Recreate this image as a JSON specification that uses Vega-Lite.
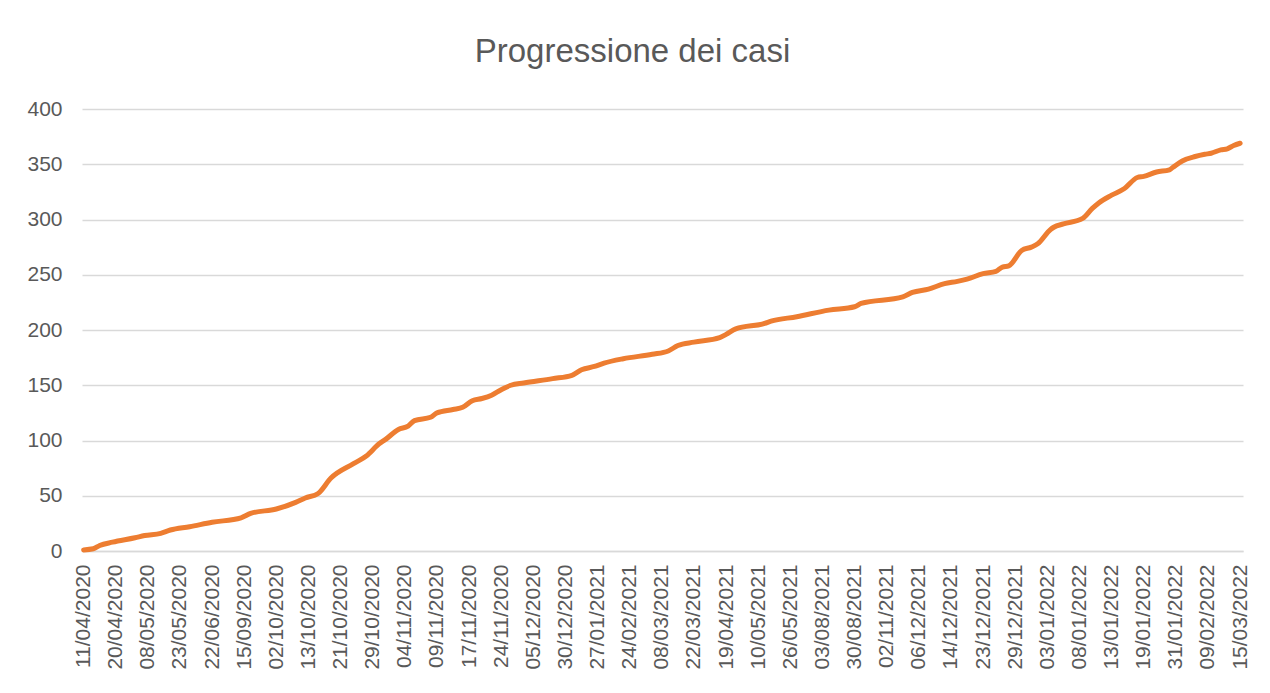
{
  "$schema": "https://vega.github.io/schema/vega-lite/v6.json",
  "autosize": {"type": "none"},
  "padding": {"left": 82, "top": 109, "right": 27, "bottom": 142},
  "width": 1161,
  "height": 442,
  "background": "white",
  "config": {"view": {"stroke": null}, "font": "Liberation Sans"},
  "title": {
    "text": "Progressione dei casi",
    "fontSize": 33,
    "fontWeight": "normal",
    "color": "#595959",
    "anchor": "middle",
    "frame": "group",
    "dx": -30,
    "dy": 42,
    "baseline": "alphabetic",
    "offset": 45
  },
  "data": {
    "values": [
      {"i": 0, "v": 1}, {"i": 3, "v": 2}, {"i": 5, "v": 5}, {"i": 9, "v": 8},
      {"i": 16, "v": 12}, {"i": 19, "v": 14}, {"i": 24, "v": 16}, {"i": 27, "v": 19},
      {"i": 33, "v": 22}, {"i": 40, "v": 26}, {"i": 49, "v": 30}, {"i": 52, "v": 34},
      {"i": 60, "v": 38}, {"i": 66, "v": 44}, {"i": 69, "v": 48}, {"i": 73, "v": 52},
      {"i": 77, "v": 66}, {"i": 84, "v": 79}, {"i": 88, "v": 86}, {"i": 92, "v": 97},
      {"i": 94, "v": 101}, {"i": 98, "v": 110}, {"i": 101, "v": 113}, {"i": 103, "v": 118},
      {"i": 108, "v": 121}, {"i": 110, "v": 125}, {"i": 115, "v": 128}, {"i": 118, "v": 130},
      {"i": 121, "v": 136}, {"i": 124, "v": 138}, {"i": 127, "v": 141}, {"i": 130, "v": 146},
      {"i": 133, "v": 150}, {"i": 137, "v": 152}, {"i": 146, "v": 156}, {"i": 152, "v": 159},
      {"i": 155, "v": 164}, {"i": 159, "v": 167}, {"i": 162, "v": 170}, {"i": 168, "v": 174},
      {"i": 177, "v": 178}, {"i": 182, "v": 181}, {"i": 185, "v": 186}, {"i": 190, "v": 189},
      {"i": 198, "v": 193}, {"i": 200, "v": 196}, {"i": 203, "v": 201}, {"i": 212, "v": 206},
      {"i": 214, "v": 208}, {"i": 222, "v": 212}, {"i": 232, "v": 218}, {"i": 240, "v": 221},
      {"i": 242, "v": 224}, {"i": 255, "v": 230}, {"i": 258, "v": 234}, {"i": 263, "v": 237},
      {"i": 268, "v": 242}, {"i": 272, "v": 244}, {"i": 275, "v": 246}, {"i": 280, "v": 251},
      {"i": 284, "v": 253}, {"i": 286, "v": 257}, {"i": 288, "v": 258}, {"i": 292, "v": 272},
      {"i": 295, "v": 275}, {"i": 297, "v": 278}, {"i": 301, "v": 291}, {"i": 302, "v": 293},
      {"i": 305, "v": 296}, {"i": 311, "v": 301}, {"i": 314, "v": 310}, {"i": 316, "v": 315},
      {"i": 320, "v": 322}, {"i": 324, "v": 328}, {"i": 328, "v": 338}, {"i": 330, "v": 339},
      {"i": 334, "v": 343}, {"i": 338, "v": 345}, {"i": 339, "v": 347}, {"i": 342, "v": 353},
      {"i": 346, "v": 357}, {"i": 349, "v": 359}, {"i": 351, "v": 360}, {"i": 354, "v": 363},
      {"i": 356, "v": 364}, {"i": 358, "v": 367}, {"i": 360, "v": 369}
    ]
  },
  "mark": {"type": "line", "color": "#ED7D31", "strokeWidth": 5, "strokeCap": "round", "strokeJoin": "round", "interpolate": "monotone"},
  "encoding": {
    "x": {
      "field": "i",
      "type": "quantitative",
      "scale": {"domain": [-0.5, 360.9], "nice": false, "zero": false},
      "axis": {
        "title": null,
        "values": [0, 10, 20, 30, 40, 50, 60, 70, 80, 90, 100, 110, 120, 130, 140, 150, 160, 170, 180, 190, 200, 210, 220, 230, 240, 250, 260, 270, 280, 290, 300, 310, 320, 330, 340, 350, 360],
        "labelExpr": "['11/04/2020','20/04/2020','08/05/2020','23/05/2020','22/06/2020','15/09/2020','02/10/2020','13/10/2020','21/10/2020','29/10/2020','04/11/2020','09/11/2020','17/11/2020','24/11/2020','05/12/2020','30/12/2020','27/01/2021','24/02/2021','08/03/2021','22/03/2021','19/04/2021','10/05/2021','26/05/2021','03/08/2021','30/08/2021','02/11/2021','06/12/2021','14/12/2021','23/12/2021','29/12/2021','03/01/2022','08/01/2022','13/01/2022','19/01/2022','31/01/2022','09/02/2022','15/03/2022'][round(datum.value / 10)]",
        "labelAngle": -90,
        "labelFontSize": 21,
        "labelColor": "#595959",
        "labelPadding": 13,
        "labelOverlap": false,
        "labelBound": false,
        "labelFlush": false,
        "ticks": false,
        "grid": false,
        "domain": true,
        "domainColor": "#D9D9D9",
        "domainWidth": 1.3
      }
    },
    "y": {
      "field": "v",
      "type": "quantitative",
      "scale": {"domain": [0, 400], "nice": false},
      "axis": {
        "title": null,
        "values": [0, 50, 100, 150, 200, 250, 300, 350, 400],
        "labelFontSize": 21,
        "labelColor": "#595959",
        "labelPadding": 20,
        "labelOverlap": false,
        "ticks": false,
        "domain": false,
        "grid": true,
        "gridColor": "#D9D9D9",
        "gridWidth": 1.3
      }
    }
  }
}
